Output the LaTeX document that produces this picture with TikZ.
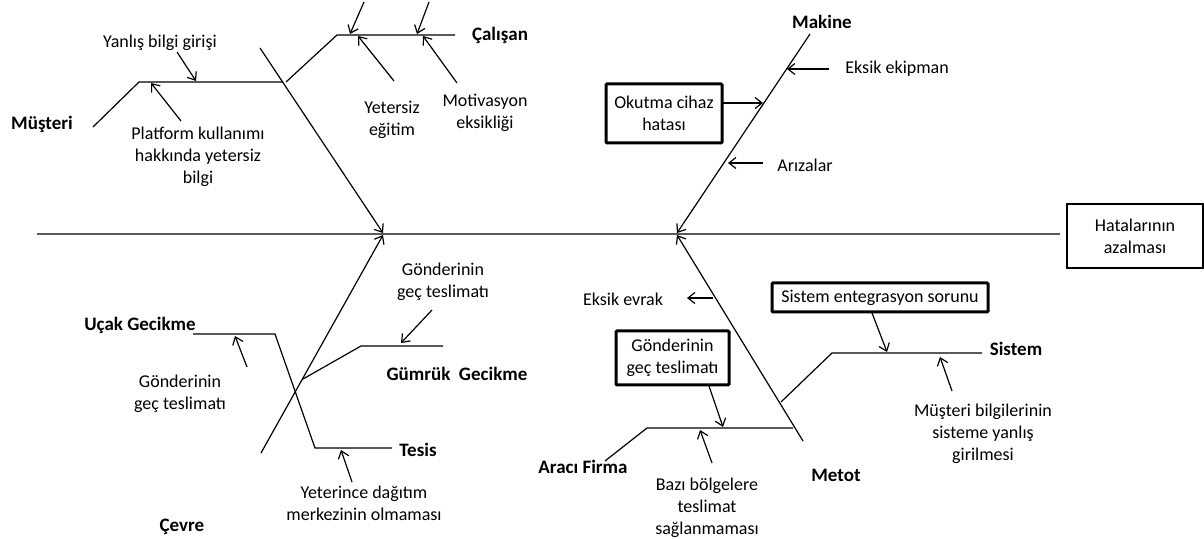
\documentclass[tikz,border=0pt]{standalone}
\usepackage{fontspec}
\setmainfont{Carlito}
\usetikzlibrary{arrows.meta}

\begin{document}
\begin{tikzpicture}[x=0.5pt, y=-0.5pt,
  every node/.style={font=\fontsize{9}{11}\selectfont, align=center, inner sep=1pt},
  bone/.style={line width=0.6pt},
  spine/.style={line width=0.9pt, draw=black!65},
  cause/.style={line width=0.6pt, -{Straight Barb[length=3.5pt,width=5.5pt]}},
  group/.style={font=\fontsize{9.5}{11}\bfseries\selectfont},
  causebox/.style={draw, line width=1.5pt, rounded corners=0.5pt, inner sep=2pt},
  effectbox/.style={draw, line width=0.6pt, minimum width=68pt, minimum height=32pt}]
\useasboundingbox (0,0) rectangle (1204,539);

% spine and effect
\coordinate (spL) at (37,234);
\coordinate (spR) at (1060,234);
\draw[spine] (spL) -- (spR);
\node[effectbox] (effect) at (1135,236) {Hatalarının\\azalması};

% main bones
\coordinate (tlS) at (260,48);
\coordinate (tlE) at (383,233);
\coordinate (blS) at (261,453);
\coordinate (blE) at (383,235);
\coordinate (trS) at (810,34);
\coordinate (trE) at (677,233);
\coordinate (brS) at (803,441);
\coordinate (brE) at (677,235);
\draw[cause] (tlS) -- (tlE);
\draw[cause] (blS) -- (blE);
\draw[cause] (trS) -- (trE);
\draw[cause] (brS) -- (brE);

% Musteri
\coordinate (mus1) at (93,127);
\coordinate (mus2) at (139,82);
\coordinate (mus3) at (283,82);
\draw[bone] (mus1) -- (mus2) -- (mus3);
\node[group] (musteri) at (42,124) {Müşteri};
\node (yanlis) at (160,43) {Yanlış bilgi girişi};
\coordinate (yanA) at (177,52);
\coordinate (yanB) at (196,81);
\draw[cause] (yanA) -- (yanB);
\node (platform) at (198,157) {Platform kullanımı\\hakkında yetersiz\\bilgi};
\coordinate (plaA) at (181,121);
\coordinate (plaB) at (151,83);
\draw[cause] (plaA) -- (plaB);

% Calisan
\coordinate (cal1) at (286,82);
\coordinate (cal2) at (337,35);
\coordinate (cal3) at (455,35);
\draw[bone] (cal1) -- (cal2) -- (cal3);
\node[group] (calisan) at (500,35) {Çalışan};
\coordinate (calA) at (364,2);
\coordinate (calB) at (350,34);
\coordinate (calC) at (429,2);
\coordinate (calD) at (417,34);
\draw[cause] (calA) -- (calB);
\draw[cause] (calC) -- (calD);
\node (yetersiz) at (392,120) {Yetersiz\\eğitim};
\node (motivasyon) at (485,113) {Motivasyon\\eksikliği};
\coordinate (yetA) at (394,81);
\coordinate (yetB) at (358,36);
\coordinate (motA) at (457,83);
\coordinate (motB) at (423,36);
\draw[cause] (yetA) -- (yetB);
\draw[cause] (motA) -- (motB);

% Makine
\node[group] (makine) at (822,22) {Makine};
\node[anchor=west] (ekipman) at (843,69) {Eksik ekipman};
\coordinate (ekiA) at (829,69);
\coordinate (ekiB) at (787,69);
\draw[cause] (ekiA) -- (ekiB);
\node[causebox, minimum width=58pt, minimum height=29.5pt] (okutma) at (664,113.5) {Okutma cihaz\\hatası};
\coordinate (okuA) at (722,103);
\coordinate (okuB) at (763,103);
\draw[cause] (okuA) -- (okuB);
\node (arizalar) at (805,165) {Arızalar};
\coordinate (ariA) at (763,163);
\coordinate (ariB) at (728,163);
\draw[cause] (ariA) -- (ariB);

% Cevre
\node[group] (cevre) at (182,527) {Çevre};
\coordinate (uca1) at (193,334);
\coordinate (uca2) at (275,334);
\coordinate (uca3) at (315,448);
\coordinate (uca4) at (392,448);
\draw[bone] (uca1) -- (uca2) -- (uca3) -- (uca4);
\node[group] (ucak) at (140,325) {Uçak Gecikme};
\node[group] (tesis) at (418,450) {Tesis};
\coordinate (ucaA) at (247,367);
\coordinate (ucaB) at (235,336);
\draw[cause] (ucaA) -- (ucaB);
\node (gonsol) at (180,394) {Gönderinin\\geç teslimatı};
\coordinate (tesA) at (352,482);
\coordinate (tesB) at (341,450);
\draw[cause] (tesA) -- (tesB);
\node (yeterince) at (364,503) {Yeterince dağıtım\\merkezinin olmaması};
\coordinate (gum1) at (303,379);
\coordinate (gum2) at (361,346);
\coordinate (gum3) at (443,346);
\draw[bone] (gum1) -- (gum2) -- (gum3);
\node[group] (gumruk) at (457,374) {Gümrük\ \ Gecikme};
\node (gonsag) at (443,282) {Gönderinin\\geç teslimatı};
\coordinate (gumA) at (432,310);
\coordinate (gumB) at (401,343);
\draw[cause] (gumA) -- (gumB);

% Metot
\node[group] (metot) at (836,475) {Metot};
\node (evrak) at (623,299) {Eksik evrak};
\coordinate (evrA) at (713,298);
\coordinate (evrB) at (687,298);
\draw[cause] (evrA) -- (evrB);
\coordinate (ara1) at (605,461);
\coordinate (ara2) at (647,428);
\coordinate (ara3) at (793,428);
\draw[bone] (ara1) -- (ara2) -- (ara3);
\node[group, anchor=west] (araci) at (536,467) {Aracı Firma};
\node[causebox, minimum width=56.5pt, minimum height=27pt] (gonbox) at (672.5,358) {Gönderinin\\geç teslimatı};
\coordinate (gonA) at (709,386);
\coordinate (gonB) at (723,427);
\draw[cause] (gonA) -- (gonB);
\coordinate (bazA) at (712,463);
\coordinate (bazB) at (700,430);
\draw[cause] (bazA) -- (bazB);
\node (bazi) at (707,508) {Bazı bölgelere\\teslimat\\sağlanmaması};
\coordinate (sis1) at (781,402);
\coordinate (sis2) at (832,353);
\coordinate (sis3) at (982,353);
\draw[bone] (sis1) -- (sis2) -- (sis3);
\node[group] (sistem) at (1016,349) {Sistem};
\node[causebox, minimum width=108pt, minimum height=14.5pt] (sisbox) at (880,297.5) {Sistem entegrasyon sorunu};
\coordinate (sisA) at (872,313);
\coordinate (sisB) at (887,352);
\draw[cause] (sisA) -- (sisB);
\coordinate (bilA) at (952,391);
\coordinate (bilB) at (940,357);
\draw[cause] (bilA) -- (bilB);
\node (bilgiler) at (983,434) {Müşteri bilgilerinin\\sisteme yanlış\\girilmesi};
\end{tikzpicture}
\end{document}
